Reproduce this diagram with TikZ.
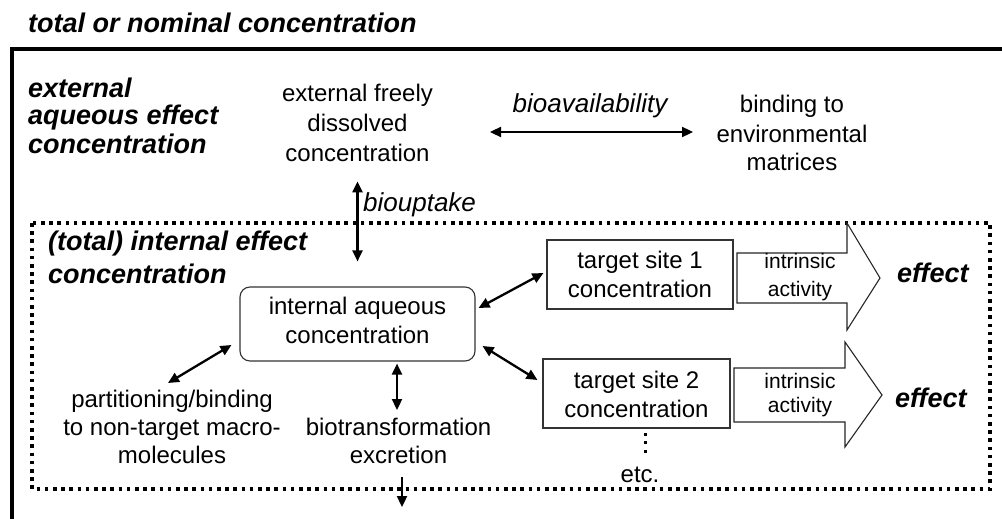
\documentclass[tikz,border=0pt]{standalone}
\usepackage{fontspec}
\setmainfont{Liberation Sans}
\usetikzlibrary{arrows.meta}
% stacked lines whose baseline is that of the first line
\newcommand{\stackc}[1]{\begin{tabular}[t]{@{}c@{}}#1\end{tabular}}
\newcommand{\stackl}[1]{\begin{tabular}[t]{@{}l@{}}#1\end{tabular}}
\begin{document}
\begin{tikzpicture}[x=1pt,y=-1pt,
  reg/.style={font=\fontsize{24}{29}\selectfont, inner sep=0pt},
  hd/.style={font=\fontsize{27}{28}\selectfont\bfseries\itshape, inner sep=0pt},
  lbl/.style={font=\fontsize{26}{29}\selectfont\itshape, inner sep=0pt},
  act/.style={font=\fontsize{21}{24}\selectfont, inner sep=0pt},
  outerframe/.style={line width=4pt},
  dotframe/.style={line width=3.6pt, dash pattern=on 3.6pt off 4.6pt},
  site/.style={draw=black!80, line width=1.1pt, inner sep=0pt, anchor=base,
               font=\fontsize{24}{29}\selectfont},
  dbl/.style={line width=2.3pt, {Triangle[length=11pt,width=10pt]}-{Triangle[length=11pt,width=10pt]}},
  sgl/.style={line width=2.3pt, -{Triangle[length=11pt,width=10pt]}},
  effarrow/.style={draw=black!85, line width=1.1pt, line join=miter}
]
\useasboundingbox (0,0) rectangle (1002,519);
\clip (0,0) rectangle (1002,519);
\fill[white] (0,0) rectangle (1002,519);

% total / nominal frame (runs off the page to the right and bottom)
\draw[outerframe] (11.5,530) -- (11.5,49) -- (1015,49);
% internal (organism) frame
\draw[dotframe] (32,223) rectangle (990,489);

% headings
\node[hd, anchor=base west] (title) at (28,33) {total or nominal concentration};
\node[hd, anchor=base west] (exthd) at (28,97) {\stackl{external\\aqueous effect\\concentration}};
\node[hd, anchor=base west] (inthd) at (48,250) {\stackl{(total) internal effect\\[5pt]concentration}};

% external compartment
\node[reg, anchor=base] (ext) at (357.5,102) {\stackc{external freely\\[1pt]dissolved\\[1pt]concentration}};
\node[reg, anchor=base] (bind) at (792,113) {\stackc{binding to\\environmental\\matrices}};
\node[lbl, anchor=base] (bav) at (590,113) {bioavailability};
\node[lbl, anchor=base west] (upt) at (363,211) {biouptake};

% internal compartment
\node[site, rounded corners=10pt, minimum width=235pt, text height=27pt, text depth=47pt]
  (ia) at (357.5,314) {\stackc{internal aqueous\\concentration}};
\node[site, minimum width=186pt, text height=28pt, text depth=41pt]
  (ts1) at (640,268) {\stackc{target site 1\\concentration}};
\node[site, minimum width=187pt, text height=29pt, text depth=40pt]
  (ts2) at (636.5,388) {\stackc{target site 2\\concentration}};
\node[reg, anchor=base] (part) at (172,407) {\stackc{partitioning/binding\\[-1pt]to non-target macro-\\[-1pt]molecules}};
\node[reg, anchor=base] (bio) at (398.5,435) {\stackc{biotransformation\\[-1pt]excretion}};
\node[reg, anchor=base] (etc) at (640,482) {etc.};

% effect arrows
\draw[effarrow] (737,253) -- (847,253) -- (847,223) -- (880,278) -- (847,330) -- (847,303) -- (737,303) -- cycle;
\draw[effarrow] (734,368) -- (845,368) -- (845,342) -- (882,395) -- (845,447) -- (845,422) -- (734,422) -- cycle;
\node[act, anchor=base] (act1) at (800,268) {\stackc{intrinsic\\[4pt]activity}};
\node[act, anchor=base] (act2) at (800,388) {\stackc{intrinsic\\activity}};
\node[hd, anchor=base west] (eff1) at (897,282) {effect};
\node[hd, anchor=base west] (eff2) at (895,407) {effect};

% further target sites
\foreach \yy in {432.5,441,449.5} \fill (643.5,\yy) rectangle ++(3,3);

% connectors
\coordinate (bavL) at (490,132);
\coordinate (bavR) at (693,132);
\coordinate (partEnd) at (168,383);
\coordinate (bioTop) at (397,410);
\coordinate (exB) at (402,477);
\coordinate (exE) at (402,507);
\draw[dbl] (bavL) -- (bavR);
\draw[dbl] ([yshift=105pt]ia.north) -- ([yshift=25pt]ia.north);
\draw[dbl] ([shift={(-8,21)}]ia.west) -- (partEnd);
\draw[dbl] ([shift={(39.5,2)}]ia.south) -- (bioTop);
\draw[dbl] ([shift={(3,-16)}]ia.east) -- ([shift={(-3,-1.5)}]ts1.west);
\draw[dbl] ([shift={(7,22)}]ia.east) -- ([shift={(-5,-13.5)}]ts2.west);
\draw[sgl] (exB) -- (exE);
\end{tikzpicture}
\end{document}
